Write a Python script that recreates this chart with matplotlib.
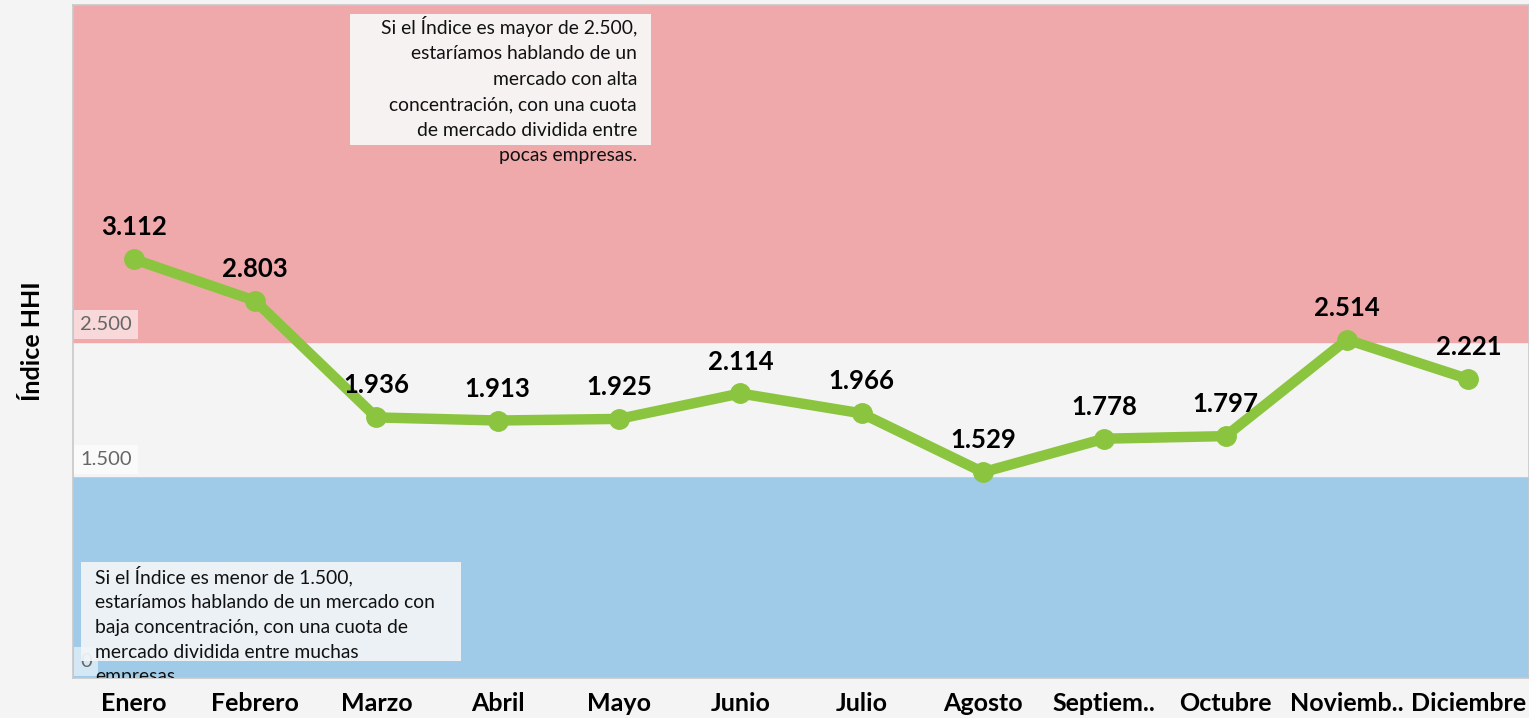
import matplotlib.pyplot as plt
from matplotlib.patches import Rectangle

meses = ["Enero", "Febrero", "Marzo", "Abril", "Mayo", "Junio", "Julio",
         "Agosto", "Septiem..", "Octubre", "Noviemb..", "Diciembre"]
hhi = [3112, 2803, 1936, 1913, 1925, 2114, 1966, 1529, 1778, 1797, 2514, 2221]
umbral_bajo = 1500
umbral_alto = 2500
y_max = 5000
marcas_y = [0, 1500, 2500]

texto_alto = ("Si el Índice es mayor de 2.500,\nestaríamos hablando de un\n"
              "mercado con alta\nconcentración, con una cuota\n"
              "de mercado dividida entre\npocas empresas.")
texto_bajo = ("Si el Índice es menor de 1.500,\nestaríamos hablando de un mercado con\n"
              "baja concentración, con una cuota de\nmercado dividida entre muchas\n"
              "empresas.")


def fmt(v):
    return f"{v:,}".replace(",", ".")


plt.rcParams['font.family'] = ['Lato', 'DejaVu Sans']

fig = plt.figure(figsize=(15.29, 7.18), dpi=100, facecolor="#f4f4f4")
ax = fig.add_axes([73 / 1529, 40 / 718, 1456 / 1529, 673 / 718])
ax.set_facecolor("#f4f4f4")

x = list(range(len(meses)))
ax.set_xlim(-0.5, len(meses) - 0.5)
ax.set_ylim(0, y_max)

# bandas de concentracion
ax.axhspan(0, umbral_bajo, color="#a0cbe8", zorder=0)
ax.axhspan(umbral_bajo, umbral_alto, color="#f4f4f4", zorder=0)
ax.axhspan(umbral_alto, y_max, color="#f0a9ab", zorder=0)

ax.plot(x, hhi, color="#8bc53f", lw=7.5, marker="o", ms=14,
        solid_capstyle="round", solid_joinstyle="round", zorder=3)

for xi, v in zip(x, hhi):
    ax.annotate(fmt(v), (xi, v), xytext=(0, 23), textcoords="offset points",
                ha="center", va="center", fontsize=18.5, fontweight="bold",
                color="black", zorder=5)

# etiquetas del eje y dentro del grafico
for t in marcas_y:
    ax.annotate(fmt(t), (0, t), xycoords=("axes fraction", "data"),
                xytext=(5, 12), textcoords="offset points", ha="left", va="center",
                fontsize=14.5, color="#666666", zorder=2,
                bbox=dict(boxstyle="square,pad=0.3", fc="white", ec="none", alpha=0.55))

# cuadros de texto
ax.add_patch(Rectangle((0.190, 0.792), 0.207, 0.195, transform=ax.transAxes,
                       fc="#f7f2f2", ec="none", zorder=4))
ax.text(0.3874, 0.9836, texto_alto, transform=ax.transAxes, ha="right", va="top",
        multialignment="right", fontsize=13.9, linespacing=1.6, color="#111111", zorder=5)

ax.add_patch(Rectangle((0.0055, 0.0253), 0.261, 0.1471, transform=ax.transAxes,
                       fc="#f3f5f8", ec="none", alpha=0.93, zorder=4))
tb = ax.text(0.0151, 0.1664, texto_bajo, transform=ax.transAxes, ha="left", va="top",
             fontsize=13.9, linespacing=1.55, color="#111111", zorder=5)
tb.set_clip_on(True)

ax.set_xticks(x)
ax.set_xticklabels(meses, fontsize=18, fontweight="bold")
ax.tick_params(axis="x", length=0, pad=10)
ax.set_yticks([])
for s in ax.spines.values():
    s.set_color("#c8c8c8")
    s.set_linewidth(1.2)

fig.text(33 / 1529, 1 - 341 / 718, "Índice HHI", rotation=90, ha="center", va="center",
         fontsize=18, fontweight="bold")

fig.savefig("out.png", dpi=100, facecolor=fig.get_facecolor())
